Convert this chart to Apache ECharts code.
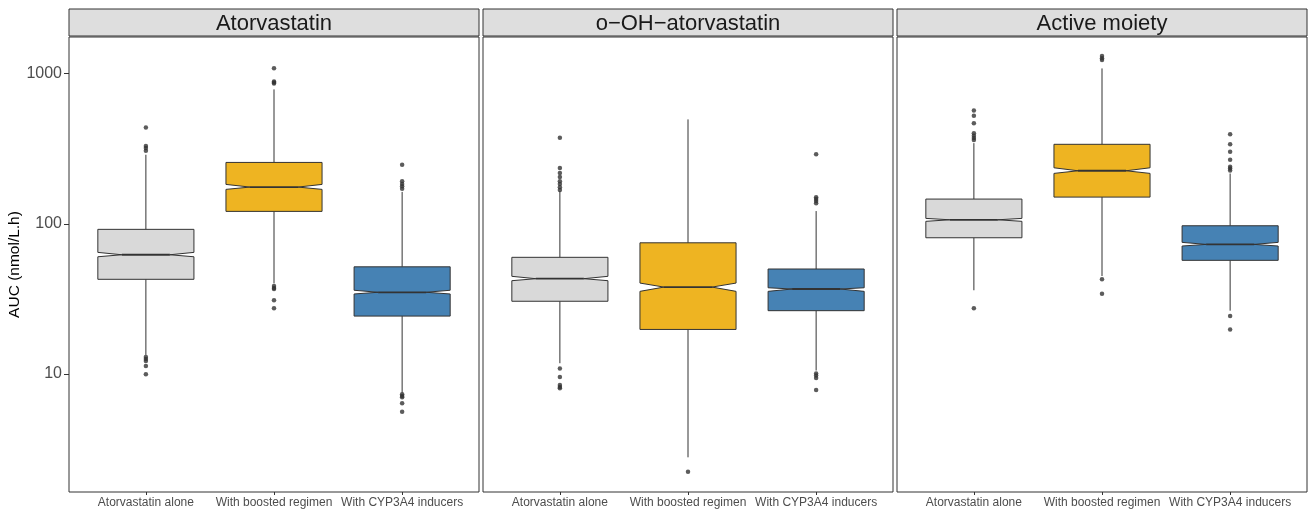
<!DOCTYPE html>
<html>
<head>
<meta charset="utf-8">
<script src="https://cdn.jsdelivr.net/npm/echarts@6/dist/echarts.min.js"></script>
<style>
html,body{margin:0;padding:0;background:#fff}
#chart{width:1309px;height:511px}
</style>
</head>
<body>
<div id="chart"></div>
<script>
/* ---------- data ---------- */
const panelNames = ['Atorvastatin', 'o\u2212OH\u2212atorvastatin', 'Active moiety'];
const groups = ['Atorvastatin alone', 'With boosted regimen', 'With CYP3A4 inducers'];
const yTicks = [10, 100, 1000];

// each box: [lower whisker, q1, notch low, median, notch high, q3, upper whisker]
const atorvaBoxes = [
  [13.4, 42.7, 60.3, 62.2, 64.5, 91.8, 288],
  [40.1, 120.9, 169.4, 175.5, 182.8, 256, 784],
  [7.51, 24.3, 34.1, 35.0, 36.1, 51.7, 163]
];
const atorvaOutliers = [
  [438, 329, 319, 306, 13.0, 12.6, 12.2, 11.3, 9.95],
  [1083, 885, 873, 859, 38.5, 37.3, 36.8, 31.0, 27.4],
  [247, 192, 184, 178, 171, 7.33, 7.14, 7.0, 6.38, 5.61]
];
const ohBoxes = [
  [11.8, 30.5, 41.8, 43.1, 44.7, 59.8, 165],
  [2.79, 19.8, 35.5, 37.9, 40.3, 74.7, 495],
  [10.55, 26.4, 35.5, 36.8, 37.5, 50.0, 121.5]
];
const ohOutliers = [
  [373, 235, 218, 205, 192, 184, 175, 168, 10.9, 9.55, 8.45, 8.19, 8.03],
  [2.24],
  [290, 150, 146, 142, 137, 10.1, 9.77, 9.41, 7.82]
];
const activeBoxes = [
  [36.1, 80.7, 103.8, 106.3, 108.6, 146, 344],
  [44.9, 150.5, 216.4, 225.3, 235.8, 338, 1081],
  [26.4, 57.1, 71.1, 72.9, 75.2, 97.0, 216]
];
const activeOutliers = [
  [568, 523, 466, 400, 386, 372, 361, 27.4],
  [1306, 1266, 1228, 42.7, 34.2],
  [394, 338, 301, 267, 240, 233, 226, 24.3, 19.8]
];

/* ---------- style ---------- */
const boxColors = ['#D9D9D9', '#EEB422', '#4682B4'];
const FONT = '"Liberation Sans", Arial, Helvetica, sans-serif';
const LINE = '#333333';
const panelLeft = [69, 483, 897];
const PANEL_W = 410, PANEL_TOP = 37, PANEL_BOTTOM = 19;
const STRIP_TOP = 9, STRIP_H = 27;
const BOX_HALF = 0.375;

const allBoxes = [atorvaBoxes, ohBoxes, activeBoxes];
const allOutliers = [atorvaOutliers, ohOutliers, activeOutliers];

/* ---------- notched box ---------- */
function renderBox(params, api){
  const x = api.value(0);
  const lo = api.value(1), q1 = api.value(2), nl = api.value(3), md = api.value(4),
        nh = api.value(5), q3 = api.value(6), hi = api.value(7);
  const p = (dx, v) => api.coord([x + dx, v]);
  const hw = BOX_HALF;
  const pts = [p(-hw,q3), p(hw,q3), p(hw,nh), p(hw/2,md), p(hw,nl), p(hw,q1),
               p(-hw,q1), p(-hw,nl), p(-hw/2,md), p(-hw,nh)];
  const c = p(0, md);
  const top = p(0, q3), bot = p(0, q1), wh = p(0, hi), wl = p(0, lo);
  const ml = p(-hw/2, md), mr = p(hw/2, md);
  return {
    type: 'group',
    children: [
      {type:'line', shape:{x1:c[0], y1:top[1], x2:c[0], y2:wh[1]}, style:{stroke:LINE, lineWidth:1}},
      {type:'line', shape:{x1:c[0], y1:bot[1], x2:c[0], y2:wl[1]}, style:{stroke:LINE, lineWidth:1}},
      {type:'polygon', shape:{points:pts}, style:{fill:boxColors[params.dataIndex], stroke:LINE, lineWidth:1}},
      {type:'line', shape:{x1:ml[0], y1:ml[1], x2:mr[0], y2:mr[1]}, style:{stroke:LINE, lineWidth:1.8}}
    ]
  };
}

/* ---------- build panels ---------- */
const grid = [], xAxis = [], yAxis = [], series = [], graphic = [];
panelNames.forEach((name, i) => {
  grid.push({left: panelLeft[i], width: PANEL_W, top: PANEL_TOP, bottom: PANEL_BOTTOM,
             show: true, borderColor: LINE, borderWidth: 1, backgroundColor: '#fff'});
  xAxis.push({
    type: 'value', gridIndex: i, min: 0.4, max: 3.6,
    axisLine: {show: false}, splitLine: {show: false},
    axisTick: {show: true, length: 3, lineStyle: {color: LINE}, customValues: [1, 2, 3]},
    axisLabel: {customValues: [1, 2, 3], formatter: v => groups[Math.round(v) - 1] || '',
                fontFamily: FONT, fontSize: 12, color: '#4D4D4D', margin: 5}
  });
  yAxis.push({
    type: 'log', logBase: 10, gridIndex: i, min: 1.64, max: 1750,
    name: i === 0 ? 'AUC (nmol/L.h)' : '', nameLocation: 'middle', nameGap: 45,
    nameTextStyle: {fontFamily: FONT, fontSize: 15.5, color: '#000'},
    axisLine: {show: false}, splitLine: {show: false}, minorSplitLine: {show: false},
    axisTick: {show: i === 0, length: 5, lineStyle: {color: LINE}, customValues: yTicks},
    axisLabel: {show: i === 0, customValues: yTicks, formatter: v => String(Math.round(v)),
                fontFamily: FONT, fontSize: 16, color: '#4D4D4D', margin: 7}
  });
  series.push({
    type: 'custom', xAxisIndex: i, yAxisIndex: i, renderItem: renderBox,
    encode: {x: 0, y: [1, 2, 3, 4, 5, 6, 7]},
    data: allBoxes[i].map((b, j) => [j + 1].concat(b)), z: 2
  });
  const pts = [];
  allOutliers[i].forEach((list, j) => list.forEach(v => pts.push([j + 1, v])));
  series.push({
    type: 'scatter', xAxisIndex: i, yAxisIndex: i, data: pts,
    symbol: 'circle', symbolSize: 4.5, itemStyle: {color: LINE}, z: 3, silent: true
  });
  graphic.push({type: 'rect', shape: {x: panelLeft[i], y: STRIP_TOP, width: PANEL_W, height: STRIP_H},
                style: {fill: '#DEDEDE', stroke: LINE, lineWidth: 1}});
  graphic.push({type: 'text', x: panelLeft[i] + PANEL_W / 2, y: STRIP_TOP + STRIP_H / 2 + 1,
                style: {text: name, fontFamily: FONT, fontSize: 22, fill: '#1A1A1A',
                        align: 'center', verticalAlign: 'middle'}});
});

const chart = echarts.init(document.getElementById('chart'), null, {renderer: 'canvas'});
chart.setOption({
  animation: false,
  backgroundColor: '#fff',
  grid, xAxis, yAxis, series, graphic
});
</script>
</body>
</html>
